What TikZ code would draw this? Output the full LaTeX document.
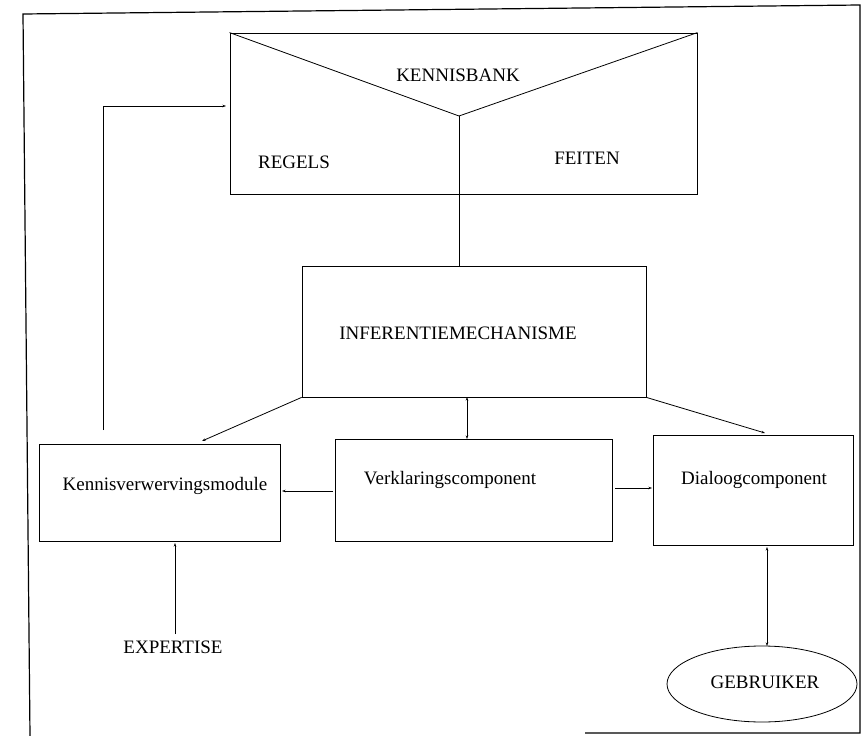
\documentclass[tikz,border=0pt]{standalone}
\usepackage{fontspec}
\setmainfont{Liberation Serif}
\usetikzlibrary{arrows.meta,shapes.geometric,calc}
\begin{document}
\begin{tikzpicture}[x=1pt,y=-1pt,
  boxst/.style={draw,line width=0.8pt,inner sep=0pt},
  lbl/.style={font=\fontsize{19}{22}\selectfont,inner sep=0pt},
  conn/.style={line width=0.8pt},
  arr/.style={conn,-{Stealth[length=3.5pt,width=2.5pt]}},
  darr/.style={conn,{Stealth[length=3.5pt,width=2.5pt]}-{Stealth[length=3.5pt,width=2.5pt]}},
  framest/.style={line width=1.2pt}]
\useasboundingbox (0,0) rectangle (863,736);
% outer frame
\draw[framest] (30,736) -- (23,14) -- (860,5) -- (860,733) -- (585,733);
% kennisbank
\node[boxst,minimum width=467pt,minimum height=161pt] (kb) at (463.5,113.5) {};
\coordinate (vtx) at (459,116);
\draw[conn] (kb.north west) -- (vtx) -- (kb.north east);
\node[lbl] (kbt) at (458,75) {KENNISBANK};
\node[lbl] (reg) at (294,162) {REGELS};
\node[lbl] (fei) at (587,158) {FEITEN};
% inferentiemechanisme
\node[boxst,minimum width=344pt,minimum height=131pt] (inf) at (474,331.5) {};
\node[lbl] (inft) at (458,333) {INFERENTIEMECHANISME};
% lower boxes
\node[boxst,minimum width=241pt,minimum height=97pt] (kvm) at (159.5,492.5) {};
\node[lbl] (kvmt) at (165,486) {Kennisverwervingsmodule};
\node[boxst,minimum width=277pt,minimum height=102pt] (ver) at (473.5,490) {};
\node[lbl] (vert) at (450,480) {Verklaringscomponent};
\node[boxst,minimum width=200pt,minimum height=110pt] (dia) at (753,490) {};
\node[lbl] (diat) at (754,480) {Dialoogcomponent};
% gebruiker & expertise
\node[draw,ellipse,line width=0.8pt,minimum width=190pt,minimum height=76pt,inner sep=0pt] (geb) at (762,684) {};
\node[lbl] (gebt) at (765,682) {GEBRUIKER};
\node[lbl] (exp) at (173,647) {EXPERTISE};
% connector end points
\coordinate (fbBot) at (103,430);
\coordinate (fbTop) at (226,106);
\coordinate (infKvm) at (202,441);
\coordinate (infDia) at (765,433);
\coordinate (iv1) at (467,397);
\coordinate (iv2) at (467,439);
\coordinate (vk1) at (333,491);
\coordinate (vk2) at (282,491);
\coordinate (vd1) at (615,488);
\coordinate (vd2) at (652,488);
\coordinate (ex1) at (175,634);
\coordinate (ex2) at (175,543);
\coordinate (dg1) at (767,547);
\coordinate (dg2) at (767,646);
% connectors
\draw[conn] (vtx) -- (vtx |- inf.north);
\draw[arr] (fbBot) |- (fbTop);
\draw[arr] (inf.south west) -- (infKvm);
\draw[arr] (inf.south east) -- (infDia);
\draw[darr] (iv1) -- (iv2);
\draw[arr] (vk1) -- (vk2);
\draw[arr] (vd1) -- (vd2);
\draw[arr] (ex1) -- (ex2);
\draw[darr] (dg1) -- (dg2);
\end{tikzpicture}
\end{document}
